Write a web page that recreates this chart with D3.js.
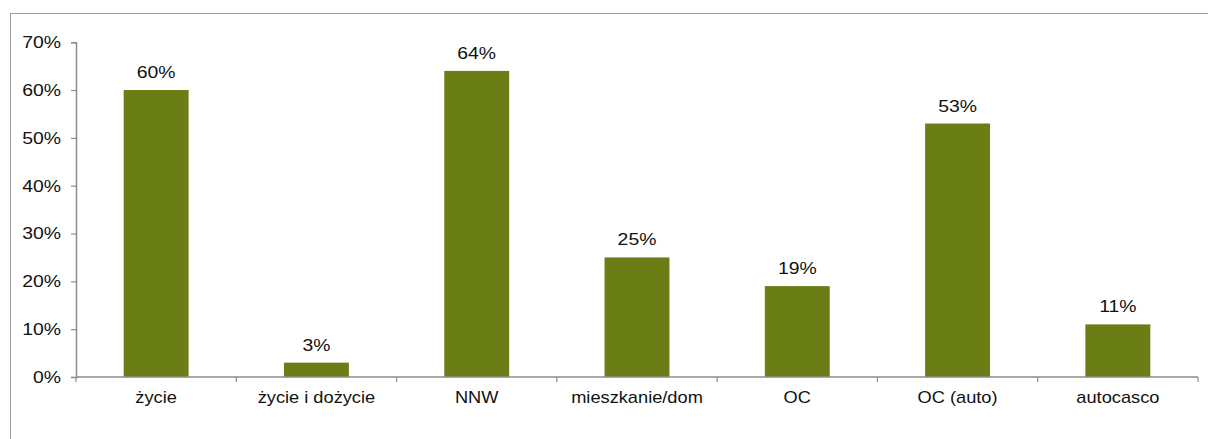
<!DOCTYPE html>
<html>
<head>
<meta charset="utf-8">
<script src="https://cdn.jsdelivr.net/npm/d3@7"></script>
<style>
  body { margin: 0; background: #fff; }
  text { font-family: "Liberation Sans", Arial, sans-serif; fill: #111; }
</style>
</head>
<body>
<div id="chart"></div>
<script>
// data
const categories = ["życie", "życie i dożycie", "NNW", "mieszkanie/dom", "OC", "OC (auto)", "autocasco"];
const values = [60, 3, 64, 25, 19, 53, 11];
const yTicks = [0, 10, 20, 30, 40, 50, 60, 70];

const W = 1208, H = 439;
const margin = {top: 42.2, left: 76};
const width = 1198 - margin.left,
    height = 377 - margin.top;
// the source text is a little wider than Arial
const sx = 1.14;

const svg = d3.select("#chart")
    .append("svg")
    .attr("width", W)
    .attr("height", H);

// outer frame (runs off the right and bottom edge)
svg.append("rect")
    .attr("x", 10.5)
    .attr("y", 13.5)
    .attr("width", 1400)
    .attr("height", 600)
    .attr("fill", "none")
    .attr("stroke", "#a0a0a0")
    .attr("stroke-width", 1);

const g = svg.append("g")
    .attr("transform", `translate(${margin.left},${margin.top})`);

// scales
const x = d3.scaleBand()
    .domain(categories)
    .range([0, width])
    .paddingInner(0.595)
    .paddingOuter(0.2975);

const y = d3.scaleLinear()
    .domain([0, 70])
    .range([height, 0]);

// bars
g.append("g")
    .selectAll("rect")
    .data(values)
    .join("rect")
    .attr("x", (d, i) => x(categories[i]))
    .attr("y", d => y(d))
    .attr("width", x.bandwidth())
    .attr("height", d => height - y(d))
    .attr("fill", "#6b7e15");

// value labels
g.append("g")
    .selectAll("text")
    .data(values)
    .join("text")
    .attr("transform", `scale(${sx},1)`)
    .attr("x", (d, i) => (x(categories[i]) + x.bandwidth() / 2) / sx)
    .attr("y", d => y(d) - 12)
    .attr("text-anchor", "middle")
    .style("font-size", "17px")
    .text(d => d + "%");

// Y axis
const yAxis = g.append("g")
    .call(d3.axisLeft(y).tickValues(yTicks).tickSize(5).tickPadding(10).tickFormat(d => d + "%"));
yAxis.selectAll("text")
    .style("font-size", "17px")
    .attr("fill", "#111")
    .attr("x", -15 / sx)
    .attr("transform", `scale(${sx},1)`);
yAxis.select(".domain").attr("stroke", "#8c8c8c").attr("stroke-width", 1.5);
yAxis.selectAll(".tick line").attr("stroke", "#8c8c8c").attr("stroke-width", 1.2);

// X axis: ticks at category boundaries
const step = x.step();
const xAxis = g.append("g")
    .attr("transform", `translate(0,${height})`);
xAxis.append("line")
    .attr("x1", 0).attr("x2", width)
    .attr("stroke", "#8c8c8c").attr("stroke-width", 1.5);
xAxis.selectAll(".bound")
    .data(d3.range(categories.length + 1))
    .join("line")
    .attr("class", "bound")
    .attr("x1", i => i * step).attr("x2", i => i * step)
    .attr("y1", 0).attr("y2", 5)
    .attr("stroke", "#8c8c8c").attr("stroke-width", 1.2);
xAxis.selectAll(".cat")
    .data(categories)
    .join("text")
    .attr("class", "cat")
    .attr("transform", `scale(${sx},1)`)
    .attr("x", d => (x(d) + x.bandwidth() / 2) / sx)
    .attr("y", 26)
    .attr("text-anchor", "middle")
    .style("font-size", "16px")
    .text(d => d);
</script>
</body>
</html>
